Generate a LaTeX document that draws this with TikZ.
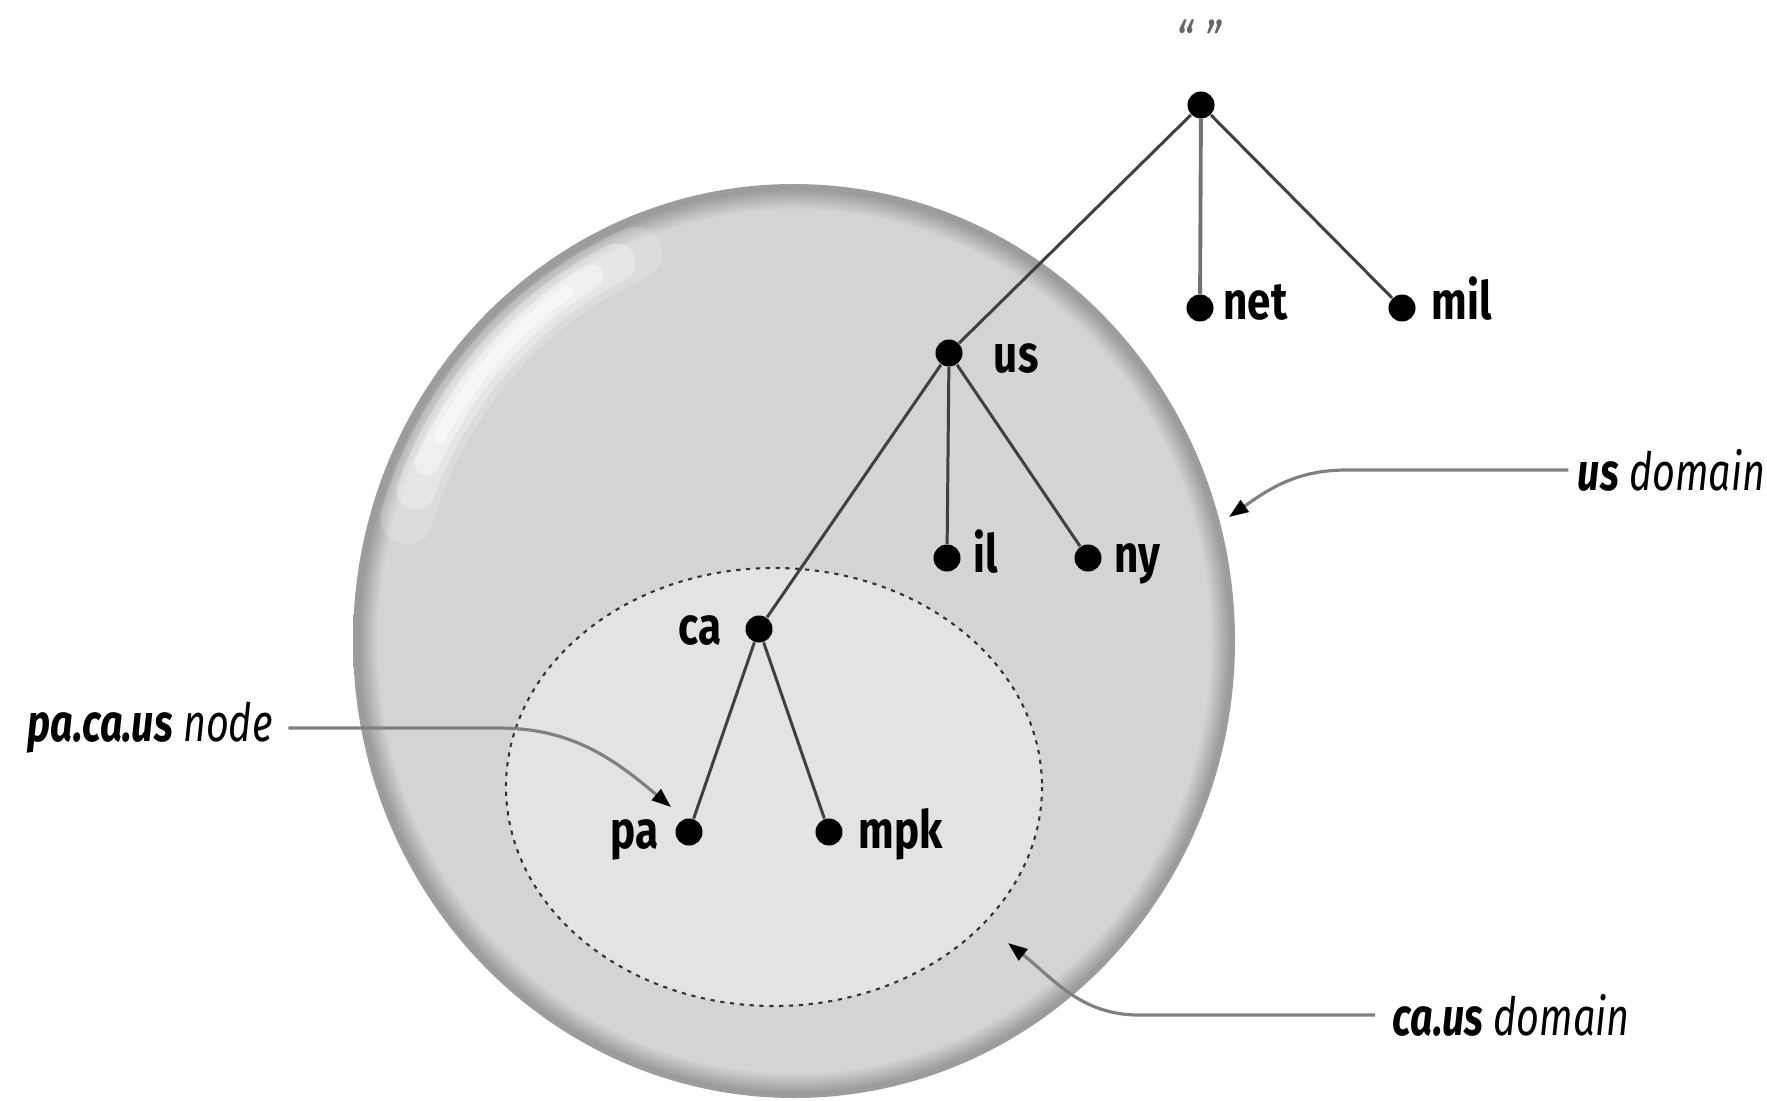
\documentclass[tikz,border=0pt]{standalone}
\usepackage{fontspec}
\setmainfont{Fira Sans}[FakeStretch=0.8]
\newfontfamily\notefont{Fira Sans}[FakeStretch=0.75]
\usetikzlibrary{arrows.meta, positioning}

\definecolor{bubblefill}{RGB}{212, 212, 212}
\definecolor{bubblerim}{RGB}{156, 156, 156}
\definecolor{innerfill}{RGB}{227, 227, 227}
\definecolor{edgegray}{RGB}{64, 64, 64}
\definecolor{notegray}{RGB}{128, 128, 128}

\pgfdeclareradialshading{bubble}{\pgfpoint{0bp}{0bp}}{%
  color(0bp)=(bubblefill); color(23.6bp)=(bubblefill);
  color(24.7bp)=(bubblerim); color(25bp)=(bubblerim); color(50bp)=(bubblerim)}

\begin{document}
\begin{tikzpicture}[
    x=0.01cm, y=-0.01cm,
    dot/.style={circle, fill=black, inner sep=0pt, minimum size=2.7mm},
    lbl/.style={inner sep=0pt, text height=9.6pt, text depth=0pt,
                font=\fontsize{15}{18}\selectfont\bfseries},
    note/.style={inner sep=0pt, font=\notefont\fontsize{15}{18}\selectfont\itshape},
    edge/.style={draw=edgegray, line width=0.85pt},
    pointer/.style={draw=notegray, line width=0.9pt,
                    -{Triangle[length=5.5pt, width=4pt, color=black]}},
    glow/.style={white, line cap=round},
]
\useasboundingbox (0,0) rectangle (1767,1100);

% --- us domain (bubble) ---
\shade[shading=bubble] (794,641) ellipse [x radius=441, y radius=457];
\draw[glow, line width=15pt, opacity=0.2]
    ([shift={(197:405 and 421)}]794,641) arc[start angle=197, end angle=247, x radius=405, y radius=421];
\draw[glow, line width=11pt, opacity=0.3]
    ([shift={(201:405 and 421)}]794,641) arc[start angle=201, end angle=244, x radius=405, y radius=421];
\draw[glow, line width=7pt, opacity=0.4]
    ([shift={(205:405 and 421)}]794,641) arc[start angle=205, end angle=240, x radius=405, y radius=421];
\draw[glow, line width=3.5pt, opacity=0.5]
    ([shift={(209:405 and 421)}]794,641) arc[start angle=209, end angle=236, x radius=405, y radius=421];

% --- ca.us domain ---
\draw[fill=innerfill, draw=black!80, line width=0.6pt, dash pattern=on 1.2pt off 1.6pt]
    (774,787) ellipse [x radius=268, y radius=219];

% --- Tree nodes ---
\node[dot] (root) at (1201,105) {};
\node[dot] (net)  at (1200,308) {};
\node[dot] (mil)  at (1402,308) {};
\node[dot] (us)   at (949,353) {};
\node[dot] (il)   at (947,558) {};
\node[dot] (ny)   at (1088,558) {};
\node[dot] (ca)   at (759,629) {};
\node[dot] (pa)   at (689,832) {};
\node[dot] (mpk)  at (829,832) {};

% --- Labels ---
\node[font=\fontsize{15}{18}\selectfont\itshape, text=black!60, inner sep=0pt]
    (rootlbl) at (1199,40) {“ ”};
\node[lbl, right=0.85mm of net, yshift=0.5mm] (netlbl) {net};
\node[lbl, right=1.45mm of mil, yshift=0.5mm] (millbl) {mil};
\node[lbl, right=3mm of us, yshift=-0.3mm] (uslbl) {us};
\node[lbl, right=1.15mm of il, yshift=0.2mm] (illbl) {il};
\node[lbl, right=1.15mm of ny, yshift=0.2mm] (nylbl) {ny};
\node[lbl, left=2.25mm of ca, yshift=0.1mm] (calbl) {ca};
\node[lbl, left=1.55mm of pa] (palbl) {pa};
\node[lbl, right=1.45mm of mpk] (mpklbl) {mpk};

% --- Edges ---
\draw[edge] (root) -- (us);
\draw[edge, draw=black!55, line width=1.1pt] (root) -- (net);
\draw[edge] (root) -- (mil);
\draw[edge] (us) -- (il);
\draw[edge] (us) -- (ny);
\draw[edge] (us) -- (ca);
\draw[edge] (ca) -- (pa);
\draw[edge] (ca) -- (mpk);

% --- Callouts ---
\node[note, anchor=west] (pacanote) at (27,728) {\textbf{pa.ca.us} node};
\node[note, anchor=east] (usnote) at (1766,470) {\textbf{us} domain};
\node[note, anchor=west] (canote) at (1392,1015) {\textbf{ca.us} domain};
\coordinate (pacatip) at (671,807);
\coordinate (ustip) at (1229,517);
\coordinate (catip) at (1008,943);

\draw[pointer] ([xshift=1.5mm]pacanote.east) -- ++(210,0) to[out=0, in=140] (pacatip);
\draw[pointer] ([xshift=-0.9mm]usnote.west) -- ++(-222,0) to[out=180, in=35] (ustip);
\draw[pointer] ([xshift=-1.7mm]canote.west) -- ++(-236,0) to[out=180, in=-38] (catip);

\end{tikzpicture}
\end{document}
